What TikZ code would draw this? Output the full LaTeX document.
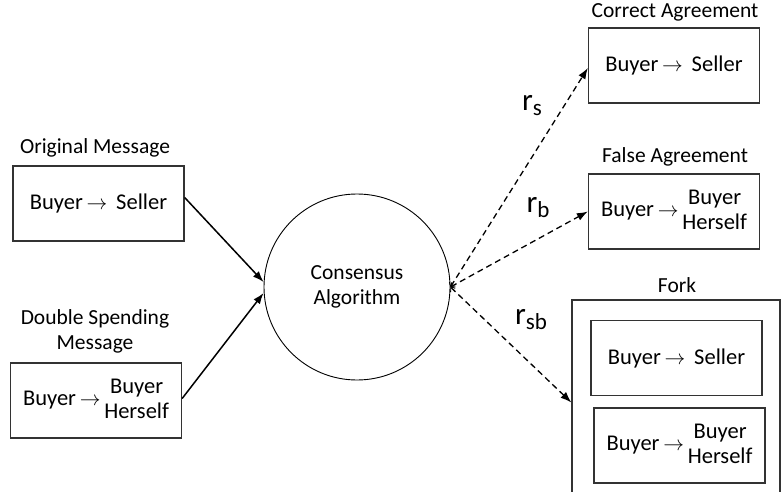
\documentclass[tikz,border=0pt]{standalone}
\usepackage{fontspec}
\setmainfont{Carlito}
\usetikzlibrary{arrows.meta,calc}
\tikzset{
  msgbox/.style={draw=black!80, line width=1.3pt, minimum width=171pt, minimum height=75pt, inner sep=0pt, font=\fontsize{22.5}{25}\selectfont, align=center},
  lbl/.style={font=\fontsize{21.5}{25}\selectfont, align=center, inner sep=0pt},
  rlbl/.style={inner sep=0pt},
  solidarrow/.style={line width=1.5pt, -{Latex[length=11pt,width=8pt]}},
  dasharrow/.style={line width=1.3pt, dash pattern=on 6pt off 4pt, {Straight Barb[length=3pt,width=7pt,line width=0.8pt]}-{Latex[length=11pt,width=8pt]}},
}
\newcommand{\arr}{\,$\rightarrow$\,}
\newcommand{\bh}{\begin{tabular}{@{}c@{}}Buyer\\Herself\end{tabular}}
\newcommand{\rr}[1]{{\fontsize{31}{31}\selectfont r}{\fontsize{23}{23}\selectfont\raisebox{-5pt}{#1}}}
\begin{document}
\begin{tikzpicture}[x=1pt,y=-1pt]
\useasboundingbox (0,0) rectangle (784,492);
% left side
\node[lbl] (origlbl) at (95,148) {Original Message};
\node[msgbox] (orig) at (98.5,203.5) {Buyer\arr\ Seller};
\node[lbl] (dbllbl) at (95,331) {Double Spending\\Message};
\node[msgbox] (dbl) at (96,400.5) {Buyer\arr\bh};
% circle
\node[draw, circle, line width=0.9pt, minimum size=186pt, inner sep=0pt, font=\fontsize{21.5}{25}\selectfont, align=center] (cons) at (357,287) {Consensus\\Algorithm};
% right side
\node[lbl] (corlbl) at (675,12) {Correct Agreement};
\node[msgbox] (cor) at (674,65.5) {Buyer\arr\ Seller};
\node[lbl] (fallbl) at (675,157) {False Agreement};
\node[msgbox] (fal) at (674,211.5) {Buyer\arr\bh};
\node[lbl] (forklbl) at (677,285) {Fork};
\node[draw=black!80, line width=1.3pt, minimum width=208pt, minimum height=205pt, inner sep=0pt] (fork) at (676,402.5) {};
\node[msgbox] (fk1) at (676.5,358) {Buyer\arr\ Seller};
\node[msgbox] (fk2) at (679.5,445.5) {Buyer\arr\bh};
% rate labels
\node[rlbl] (rs) at (532,106) {\rr{s}};
\node[rlbl] (rb) at (538,208) {\rr{b}};
\node[rlbl] (rsb) at (531,320) {\rr{sb}};
% connectors
\draw[solidarrow] ([yshift=6pt]orig.east) -- ([yshift=5pt]cons.west);
\draw[solidarrow] ([yshift=2pt]dbl.east) -- ([yshift=-6pt]cons.west);
\draw[dasharrow] (cons.east) -- ([yshift=-2.5pt]cor.west);
\draw[dasharrow] (cons.east) -- (fal.west);
\draw[dasharrow] (cons.east) -- (fork.west);
\end{tikzpicture}
\end{document}
